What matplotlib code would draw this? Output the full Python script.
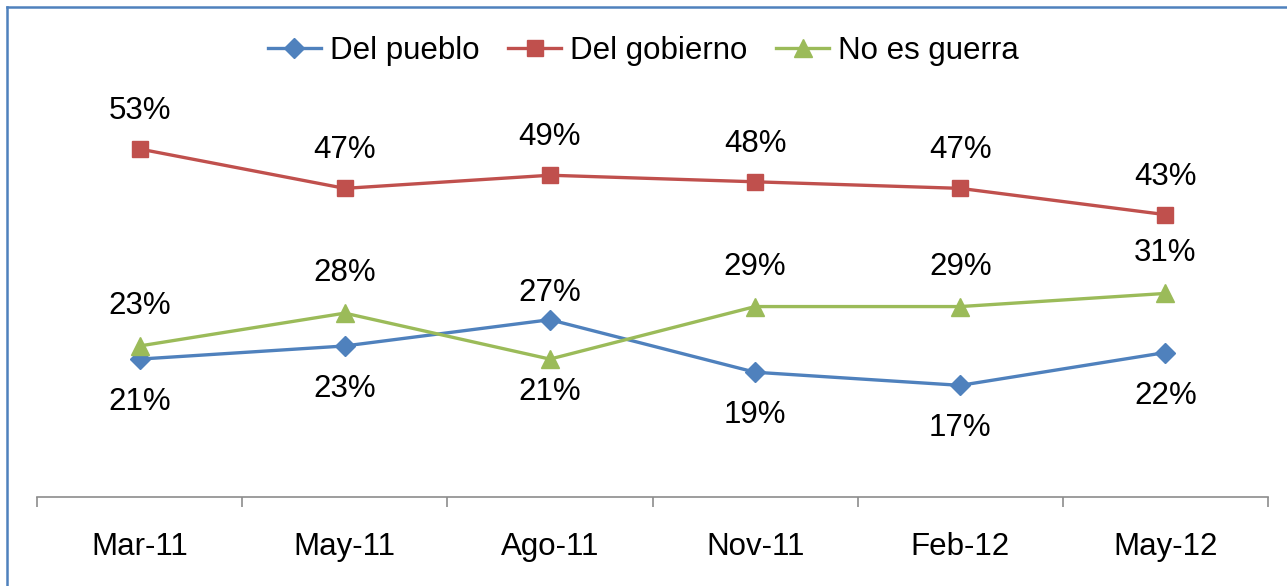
import matplotlib
matplotlib.use("Agg")
import matplotlib.pyplot as plt
from matplotlib.lines import Line2D

categories = ["Mar-11", "May-11", "Ago-11", "Nov-11", "Feb-12", "May-12"]
pueblo = [21, 23, 27, 19, 17, 22]
gobierno = [53, 47, 49, 48, 47, 43]
no_guerra = [23, 28, 21, 29, 29, 31]
series_names = ["Del pueblo", "Del gobierno", "No es guerra"]

plt.rcParams['font.family'] = ['Liberation Sans', 'DejaVu Sans']
FS = 22.5

fig = plt.figure(figsize=(12.87, 5.86), dpi=100)
ax = fig.add_axes([37/1287, 1-497/586, (1268-37)/1287, (497-103)/586])

blue, red, green = "#4F81BD", "#C0504D", "#9BBB59"
x = list(range(len(categories)))

ax.plot(x, pueblo, color=blue, lw=2.4, marker="D", ms=10, label=series_names[0], zorder=3)
ax.plot(x, gobierno, color=red, lw=2.4, marker="s", ms=12, label=series_names[1], zorder=3)
ax.plot(x, no_guerra, color=green, lw=2.4, marker="^", ms=13, label=series_names[2], zorder=3)

def lab(xi, v, dy):
    ax.annotate(f"{v}%", (xi, v), xytext=(0, dy - 3), textcoords="offset pixels",
                ha="center", va="center", fontsize=FS, color="black")

for i, v in enumerate(gobierno):
    lab(i, v, 41)
for i, v in enumerate(no_guerra):
    lab(i, v, -30 if i == 2 else 43)
for i, v in enumerate(pueblo):
    lab(i, v, 30 if i == 2 else -40)

ax.set_xlim(-0.5, len(categories) - 0.5)
ax.set_ylim(0, 60)
ax.set_yticks([])
for s in ["top", "right", "left"]:
    ax.spines[s].set_visible(False)
ax.spines["bottom"].set_color("#8C8C8C")
ax.spines["bottom"].set_linewidth(1.2)
ax.set_xticks(x)
ax.set_xticklabels(categories, fontsize=FS)
ax.tick_params(axis="x", which="major", length=0, pad=25)
ax.set_xticks([i - 0.5 for i in range(len(categories) + 1)], minor=True)
ax.tick_params(axis="x", which="minor", length=7, width=1.2, color="#8C8C8C", direction="out")

leg = ax.legend(loc="center", bbox_to_anchor=(0.5, 1 - 51/586), bbox_transform=fig.transFigure,
                ncol=3, frameon=False, fontsize=FS, handlelength=1.7, handletextpad=0.3,
                columnspacing=0.9)

# figure border (top and left visible)
fig.add_artist(Line2D([7/1287, 7/1287], [0, 1 - 7/586], transform=fig.transFigure,
                      color="#4F81BD", lw=1.8))
fig.add_artist(Line2D([7/1287, 1], [1 - 7/586, 1 - 7/586], transform=fig.transFigure,
                      color="#4F81BD", lw=1.8))

fig.savefig("out.png", dpi=100)
